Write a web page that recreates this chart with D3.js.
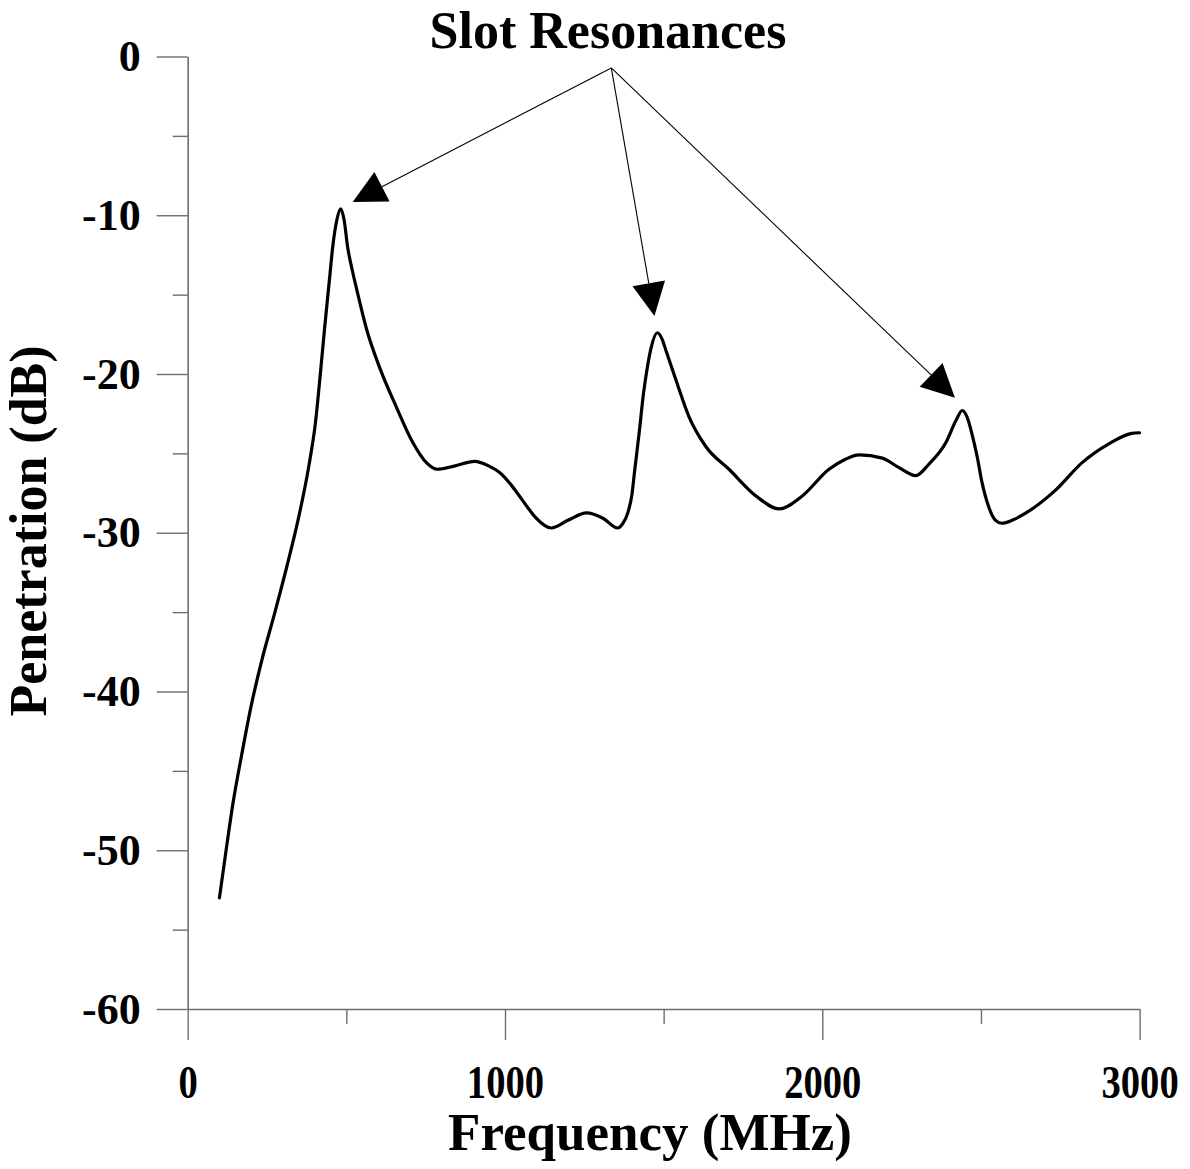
<!DOCTYPE html>
<html>
<head>
<meta charset="utf-8">
<script src="https://cdn.jsdelivr.net/npm/d3@7"></script>
<style>
  html, body { margin: 0; padding: 0; background: #fff; }
  svg text { font-family: "Liberation Serif", "Times New Roman", serif; font-weight: bold; fill: #000; }
</style>
</head>
<body>
<svg id="chart" width="1190" height="1169"></svg>
<script>
// ---- data ----
const frequency = [100,121,143,170,199,234,275,314,350,380,403,418,432,447,457,470,482,493,504,518,533,564,605,658,709,753,787,840,904,950,983,1020,1046,1075,1099,1146,1200,1257,1310,1355,1372,1387,1400,1408,1424,1436,1446,1461,1480,1495,1507,1539,1580,1634,1706,1792,1864,1936,2021,2070,2116,2189,2242,2295,2335,2390,2422,2441,2458,2472,2488,2503,2525,2545,2566,2600,2642,2736,2818,2903,2975,3000];
const penetration = [-53.0,-50.0,-47.0,-44.0,-41.0,-38.0,-35.0,-32.0,-29.0,-26.0,-23.0,-20.0,-17.0,-14.0,-12.0,-10.3,-9.6,-10.3,-12.0,-13.4,-14.7,-17.2,-19.6,-22.1,-24.3,-25.6,-26.0,-25.8,-25.5,-25.8,-26.2,-27.0,-27.7,-28.5,-29.1,-29.7,-29.2,-28.75,-29.1,-29.7,-29.4,-28.75,-27.6,-26.2,-23.5,-21.3,-19.9,-18.3,-17.4,-17.8,-18.5,-20.4,-22.7,-24.6,-26.0,-27.7,-28.5,-27.7,-26.0,-25.4,-25.1,-25.3,-25.9,-26.4,-25.7,-24.3,-22.9,-22.3,-22.8,-23.8,-25.2,-26.8,-28.4,-29.2,-29.4,-29.2,-28.75,-27.3,-25.6,-24.4,-23.74,-23.7];

const xMajorTicks = [0, 1000, 2000, 3000];
const xMinorTicks = [500, 1500, 2500];
const yMajorTicks = [0, -10, -20, -30, -40, -50, -60];
const yMinorTicks = [-5, -15, -25, -35, -45, -55];

const titleText = "Slot Resonances";
const xLabel = "Frequency (MHz)";
const yLabel = "Penetration (dB)";

// annotation: label anchor and arrow tips (data units)
const annoOrigin = [1335, -0.72];
const annoTips = [[520, -9.16], [1471, -16.34], [2418, -21.5]];

// ---- layout ----
const svg = d3.select("#chart");
const x = d3.scaleLinear().domain([0, 3000]).range([187.7, 1139.6]);
const y = d3.scaleLinear().domain([-60, 0]).range([1009, 56.5]);

const axisColor = "#6e6e6e";

// minor ticks
svg.append("g").attr("transform", `translate(0,${y(-60)})`)
  .call(d3.axisBottom(x).tickValues(xMinorTicks).tickSize(15).tickSizeOuter(0).tickFormat(""))
  .call(g => g.select(".domain").remove());
svg.append("g").attr("transform", `translate(${x(0)},0)`)
  .call(d3.axisLeft(y).tickValues(yMinorTicks).tickSize(15).tickSizeOuter(0).tickFormat(""))
  .call(g => g.select(".domain").remove());

// major axes
const gx = svg.append("g").attr("transform", `translate(0,${y(-60)})`)
  .call(d3.axisBottom(x).tickValues(xMajorTicks).tickSize(31).tickSizeOuter(0).tickPadding(25).tickFormat(d3.format("d")));
const gy = svg.append("g").attr("transform", `translate(${x(0)},0)`)
  .call(d3.axisLeft(y).tickValues(yMajorTicks).tickSize(31).tickSizeOuter(0).tickPadding(16).tickFormat(d => d === 0 ? "0" : "-" + Math.abs(d)));

svg.selectAll(".tick line").attr("stroke", axisColor).attr("stroke-width", 1.4);
svg.selectAll(".domain").attr("stroke", axisColor).attr("stroke-width", 1.6);
svg.selectAll(".tick text").attr("font-family", "Liberation Serif, serif").attr("font-weight", "bold").attr("fill", "#000");
gy.selectAll(".tick text").attr("font-size", 44);
gx.selectAll(".tick text").attr("font-size", 46).attr("transform", "scale(0.84,1)");

// curve
const pts = frequency.map((f, i) => [f, penetration[i]]);
const line = d3.line().x(d => x(d[0])).y(d => y(d[1])).curve(d3.curveMonotoneX);
svg.append("path").datum(pts).attr("d", line)
  .attr("fill", "none").attr("stroke", "#000").attr("stroke-width", 3.2)
  .attr("stroke-linejoin", "round").attr("stroke-linecap", "round");

// annotations
const ox = x(annoOrigin[0]), oy = y(annoOrigin[1]);
const headLen = 33, headHalf = 16.5;
annoTips.forEach(t => {
  const tx = x(t[0]), ty = y(t[1]);
  const dx = tx - ox, dy = ty - oy, L = Math.hypot(dx, dy);
  const ux = dx / L, uy = dy / L;
  const bx = tx - ux * headLen, by = ty - uy * headLen;
  const px = -uy, py = ux;
  svg.append("line").attr("x1", ox).attr("y1", oy).attr("x2", bx).attr("y2", by)
    .attr("stroke", "#000").attr("stroke-width", 1.1);
  svg.append("polygon")
    .attr("points", [[tx, ty], [bx + px * headHalf, by + py * headHalf], [bx - px * headHalf, by - py * headHalf]].map(p => p.join(",")).join(" "))
    .attr("fill", "#000");
});

// texts
svg.append("text").attr("x", 608).attr("y", 48).attr("text-anchor", "middle")
  .attr("font-size", 52).text(titleText);
svg.append("text").attr("x", 650).attr("y", 1150).attr("text-anchor", "middle")
  .attr("font-size", 53).text(xLabel);
svg.append("text").attr("transform", "translate(46,531) rotate(-90)").attr("text-anchor", "middle")
  .attr("font-size", 52).text(yLabel);
</script>
</body>
</html>
